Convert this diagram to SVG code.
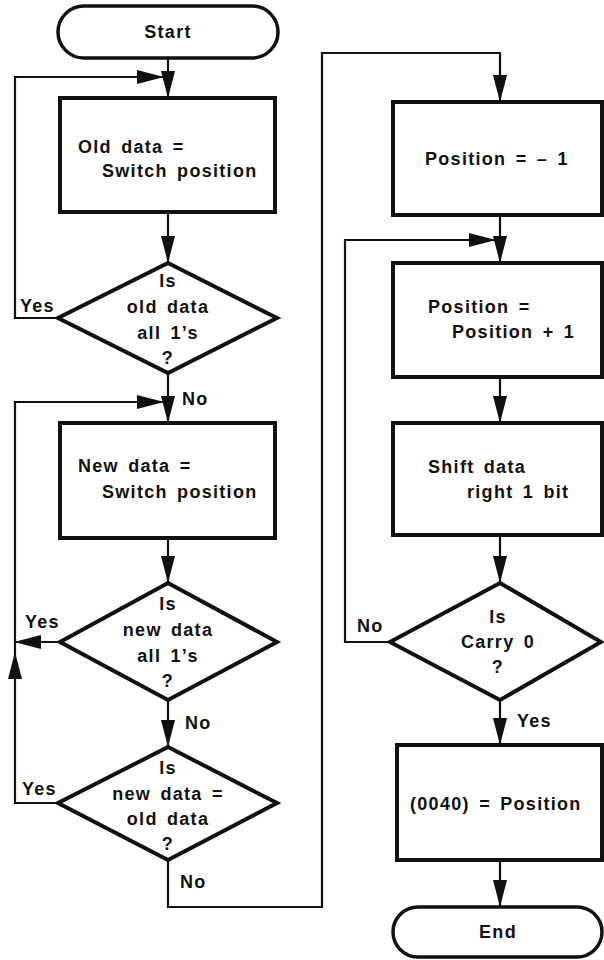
<svg xmlns="http://www.w3.org/2000/svg" width="604" height="960" viewBox="0 0 604 960">
<style>
text{font-family:"Liberation Sans",Arial,sans-serif;font-size:18px;font-weight:bold;letter-spacing:1.3px;word-spacing:3px;fill:#111}
.c{text-anchor:middle}
.box{fill:#fff;stroke:#111;stroke-width:4}
.term{fill:#fff;stroke:#111;stroke-width:3.5}
.dia{fill:#fff;stroke:#111;stroke-width:4;stroke-linejoin:miter}
.ln{fill:none;stroke:#111;stroke-width:2.2}
</style>
<defs>
<marker id="ah" markerUnits="userSpaceOnUse" markerWidth="28" markerHeight="16" refX="27" refY="8" orient="auto">
<path d="M0,1 L27,8 L0,15 Z" fill="#111"/>
</marker>
</defs>
<rect width="604" height="960" fill="#fff"/>
<g id="connectors">
<path class="ln" d="M168,58 V98" marker-end="url(#ah)"/>
<path class="ln" d="M58,318 H15 V77 H164" marker-end="url(#ah)"/>
<path class="ln" d="M168,212 V263" marker-end="url(#ah)"/>
<path class="ln" d="M168,373 V423" marker-end="url(#ah)"/>
<path class="ln" d="M58,803 H15 V652" marker-end="url(#ah)"/>
<path class="ln" d="M15,652 V402 H164" marker-end="url(#ah)"/>
<path class="ln" d="M60,642 H14" marker-end="url(#ah)"/>
<path class="ln" d="M168,538 V583" marker-end="url(#ah)"/>
<path class="ln" d="M168,700 V747" marker-end="url(#ah)"/>
<path class="ln" d="M168,860 V907 H322 V53 H500 V102" marker-end="url(#ah)"/>
<path class="ln" d="M500,215 V263" marker-end="url(#ah)"/>
<path class="ln" d="M390,642 H345 V240 H496" marker-end="url(#ah)"/>
<path class="ln" d="M500,377 V423" marker-end="url(#ah)"/>
<path class="ln" d="M500,535 V583" marker-end="url(#ah)"/>
<path class="ln" d="M500,700 V745" marker-end="url(#ah)"/>
<path class="ln" d="M500,860 V907" marker-end="url(#ah)"/>
</g>
<g id="start">
<rect class="term" x="58" y="6" width="220" height="52" rx="26"/>
<text class="c" x="168" y="38">Start</text>
</g>
<g id="old-data">
<rect class="box" x="60" y="98" width="215" height="114"/>
<text x="78" y="153">Old data =</text>
<text x="102" y="177">Switch position</text>
</g>
<g id="old-all-ones">
<polygon class="dia" points="168,263 277,318 168,373 58,318"/>
<text class="c" x="168" y="287">Is</text>
<text class="c" x="168" y="313">old data</text>
<text class="c" x="168" y="339">all 1’s</text>
<text class="c" x="168" y="364">?</text>
</g>
<g id="new-data">
<rect class="box" x="60" y="423" width="215" height="115"/>
<text x="78" y="472">New data =</text>
<text x="102" y="498">Switch position</text>
</g>
<g id="new-all-ones">
<polygon class="dia" points="168,583 277,642 168,700 60,642"/>
<text class="c" x="168" y="610">Is</text>
<text class="c" x="168" y="636">new data</text>
<text class="c" x="168" y="662">all 1’s</text>
<text class="c" x="168" y="687">?</text>
</g>
<g id="new-eq-old">
<polygon class="dia" points="168,747 277,803 168,860 58,803"/>
<text class="c" x="168" y="774">Is</text>
<text class="c" x="168" y="800">new data =</text>
<text class="c" x="168" y="825">old data</text>
<text class="c" x="168" y="850">?</text>
</g>
<g id="labels-left">
<text x="20" y="312">Yes</text>
<text x="182" y="405">No</text>
<text x="25" y="628">Yes</text>
<text x="185" y="729">No</text>
<text x="22" y="795">Yes</text>
<text x="180" y="888">No</text>
</g>
<g id="pos-init">
<rect class="box" x="393" y="102" width="209" height="113"/>
<text x="425" y="165">Position = – 1</text>
</g>
<g id="pos-inc">
<rect class="box" x="393" y="263" width="209" height="114"/>
<text x="428" y="313">Position =</text>
<text x="452" y="338">Position + 1</text>
</g>
<g id="shift">
<rect class="box" x="393" y="423" width="209" height="112"/>
<text x="428" y="473">Shift data</text>
<text x="467" y="498">right 1 bit</text>
</g>
<g id="carry">
<polygon class="dia" points="500,583 601,642 500,700 390,642"/>
<text class="c" x="498" y="623">Is</text>
<text class="c" x="498" y="648">Carry 0</text>
<text class="c" x="498" y="673">?</text>
</g>
<g id="store">
<rect class="box" x="397" y="745" width="205" height="115"/>
<text x="410" y="810">(0040) = Position</text>
</g>
<g id="end">
<rect class="term" x="393" y="907" width="209" height="50" rx="25"/>
<text class="c" x="498" y="938">End</text>
</g>
<g id="labels-right">
<text x="357" y="632">No</text>
<text x="517" y="727">Yes</text>
</g>
</svg>
